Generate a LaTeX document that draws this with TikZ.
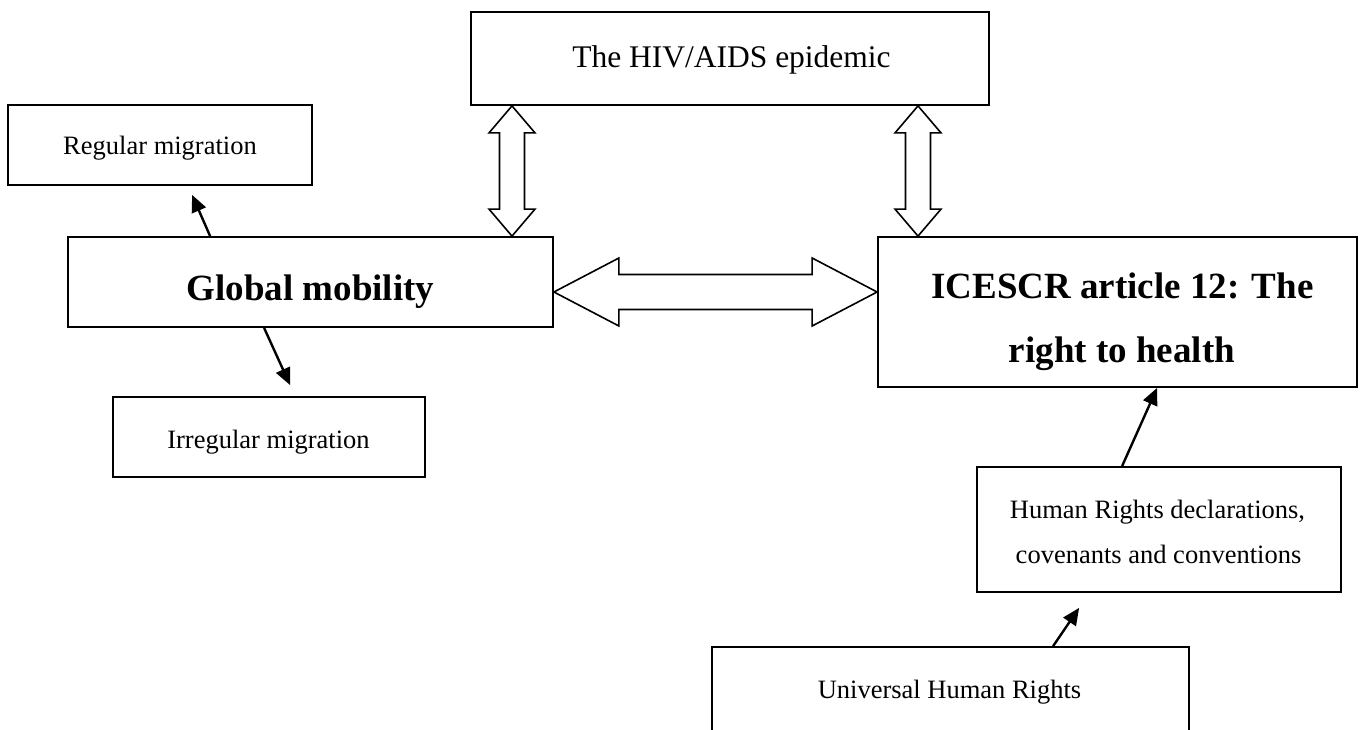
\documentclass[tikz,border=0pt]{standalone}
\usepackage{fontspec}
\setmainfont{Liberation Serif}
\usetikzlibrary{arrows.meta,calc}
\tikzset{
  box/.style={draw, line width=1.8pt, inner sep=0pt, fill=white},
  smalltxt/.style={anchor=base, inner sep=0pt, font=\fontsize{26.5}{30}\selectfont},
  bigtxt/.style={anchor=base, inner sep=0pt, font=\fontsize{37}{42}\bfseries\selectfont},
  hivtxt/.style={anchor=base, inner sep=0pt, font=\fontsize{31.5}{36}\selectfont},
  fatarrow/.style={draw, line width=1.6pt, fill=white, line join=miter},
  thinarrow/.style={line width=2.4pt, -{Triangle[length=17pt,width=15pt]}},
}
\begin{document}
\begin{tikzpicture}[x=1pt, y=-1pt]
\useasboundingbox (0,0) rectangle (1360,730);
\clip (0,0) rectangle (1360,730);

% boxes
\node[box, minimum width=518pt, minimum height=93pt] (hiv) at (730,58.5) {};
\node[box, minimum width=304pt, minimum height=80pt] (reg) at (160,145) {};
\node[box, minimum width=485pt, minimum height=90pt] (glob) at (310.5,282) {};
\node[box, minimum width=312pt, minimum height=80pt] (irr) at (269,437) {};
\node[box, minimum width=479pt, minimum height=150pt] (ice) at (1117.5,312) {};
\node[box, minimum width=364pt, minimum height=125pt] (hr) at (1159,529.5) {};
\node[box, minimum width=477pt, minimum height=126pt] (uhr) at (950.5,710) {};

% texts
\node[hivtxt] (hivT) at (731.5,68) {The HIV/AIDS epidemic};
\node[smalltxt] (regT) at (160,155) {Regular migration};
\node[bigtxt] (globT) at (310.5,300) {Global mobility};
\node[smalltxt] (irrT) at (268.5,448) {Irregular migration};
\node[bigtxt] (iceT1) at (1122.5,298) {ICESCR article 12: The};
\node[bigtxt] (iceT2) at (1122,362) {right to health};
\node[smalltxt] (hrT1) at (1157.5,518) {Human Rights declarations,};
\node[smalltxt] (hrT2) at (1158.5,563) {covenants and conventions};
\node[smalltxt] (uhrT) at (949.5,698) {Universal Human Rights};

% vertical double arrows
\coordinate (xl) at (512,0);
\coordinate (xr) at (918,0);
\coordinate (hy) at (0,292);
\foreach \T/\B in {{xl |- hiv.south}/{xl |- glob.north}, {xr |- hiv.south}/{xr |- ice.north}}{
  \coordinate (T) at (\T);
  \coordinate (B) at (\B);
  \draw[fatarrow] (T) -- ($(T)+(23,27)$) -- ($(T)+(12.5,27)$) -- ($(B)+(12.5,-27)$)
    -- ($(B)+(23,-27)$) -- (B) -- ($(B)+(-23,-27)$) -- ($(B)+(-12.5,-27)$)
    -- ($(T)+(-12.5,27)$) -- ($(T)+(-23,27)$) -- cycle;
}

% horizontal double arrow
\coordinate (L) at (glob.east |- hy);
\coordinate (R) at (ice.west |- hy);
\draw[fatarrow] (L) -- ($(L)+(65,-34)$) -- ($(L)+(65,-17.5)$) -- ($(R)+(-65,-17.5)$)
  -- ($(R)+(-65,-34)$) -- (R) -- ($(R)+(-65,34)$) -- ($(R)+(-65,17.5)$)
  -- ($(L)+(65,17.5)$) -- ($(L)+(65,34)$) -- cycle;

% thin arrows
\draw[thinarrow] ($(glob.north west)+(143,0)$) -- ($(reg.south west)+(185,9)$);
\draw[thinarrow] ($(glob.south west)+(197,0)$) -- ($(irr.north west)+(178,-11)$);
\draw[thinarrow] ($(hr.north west)+(146,0)$) -- ($(ice.south west)+(280,0)$);
\draw[thinarrow] ($(uhr.north west)+(342,0)$) -- ($(hr.south west)+(103,15)$);
\end{tikzpicture}
\end{document}
